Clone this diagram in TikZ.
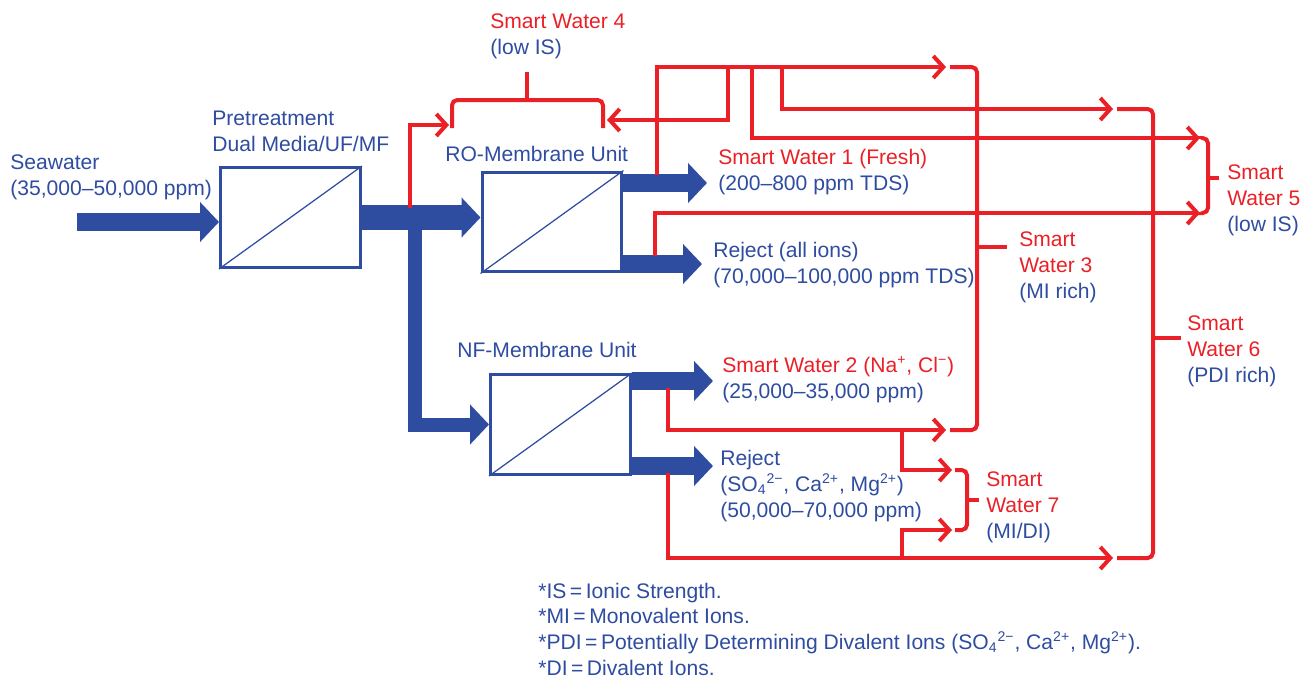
\documentclass[tikz,border=0pt]{standalone}
\usepackage{fontspec}
\setmainfont{Liberation Sans}
\usetikzlibrary{arrows.meta, positioning, calc}

\definecolor{flowblue}{RGB}{46,76,160}
\definecolor{flowred}{RGB}{234,32,38}
\newcommand{\redtxt}[1]{\textcolor{flowred}{#1}}

\begin{document}
\begin{tikzpicture}[
    x=0.02cm, y=-0.02cm,
    unit/.style={draw=flowblue, line width=0.06cm, minimum width=2.8cm,
                 minimum height=2cm, inner sep=0pt},
    lbl/.style={anchor=base west, inner sep=0pt, align=left, text=flowblue,
                font=\fontsize{12}{14.6}\selectfont},
    fat/.style={flowblue, line width=0.36cm,
                -{Triangle[length=0.38cm, width=0.78cm]}},
    pipe/.style={flowred, line width=0.08cm},
    feed/.style={pipe, -{Straight Barb[length=0.2cm, width=0.44cm]}},
    bracket/.style={pipe, rounded corners=3pt}
  ]
  \useasboundingbox (0,0) rectangle (1301,680);

  % Units
  \node[unit] (pre) at (290.5,217.5) {};
  \node[unit] (ro)  at (552,222) {};
  \node[unit] (nf)  at (560.5,424.5) {};
  \foreach \u in {pre,ro,nf}
    \draw[flowblue, line width=0.025cm] (\u.south west) -- (\u.north east);

  % Labels (placed at the baseline of their last line)
  \node[lbl] (sea)    at (10,195)  {Seawater\\(35,000–50,000 ppm)};
  \node[lbl] (pretxt) at (212,151) {Pretreatment\\Dual Media/UF/MF};
  \node[lbl] (rotxt)  at (445,161) {RO-Membrane Unit};
  \node[lbl] (nftxt)  at (457,357) {NF-Membrane Unit};
  \node[lbl] (sw4)    at (490,54)  {\redtxt{Smart Water 4}\\(low IS)};
  \node[lbl] (sw1)    at (718,190) {\redtxt{Smart Water 1 (Fresh)}\\(200–800 ppm TDS)};
  \node[lbl] (rorej)  at (713,283) {Reject (all ions)\\(70,000–100,000 ppm TDS)};
  \node[lbl] (sw2)    at (722,398) {\redtxt{Smart Water 2 (Na\textsuperscript{+}, Cl\textsuperscript{−})}\\(25,000–35,000 ppm)};
  \node[lbl] (nfrej)  at (720,517) {Reject\\(SO\textsubscript{4}\textsuperscript{2−}, Ca\textsuperscript{2+}, Mg\textsuperscript{2+})\\(50,000–70,000 ppm)};
  \node[lbl] (sw3)    at (1019,298) {\redtxt{Smart}\\\redtxt{Water 3}\\(MI rich)};
  \node[lbl] (sw5)    at (1227,231) {\redtxt{Smart}\\\redtxt{Water 5}\\(low IS)};
  \node[lbl] (sw6)    at (1187,382) {\redtxt{Smart}\\\redtxt{Water 6}\\(PDI rich)};
  \node[lbl] (sw7)    at (986,538)  {\redtxt{Smart}\\\redtxt{Water 7}\\(MI/DI)};
  \node[lbl] (notes) at (538,675)
    {*IS\,=\,Ionic Strength.\\*MI\,=\,Monovalent Ions.\\
     *PDI\,=\,Potentially Determining Divalent Ions (SO\textsubscript{4}\textsuperscript{2−}, Ca\textsuperscript{2+}, Mg\textsuperscript{2+}).\\
     *DI\,=\,Divalent Ions.};

  % Blue streams
  \coordinate (seain) at (77,222);
  \coordinate (tee)   at (415,217.5);
  \coordinate (ro1)   at (707,183);
  \coordinate (ro2)   at (702,264);
  \coordinate (nf1)   at (713,381);
  \coordinate (nf2)   at (713,466);
  \draw[fat] (seain) -- (seain -| pre.west);
  \draw[fat, line width=0.5cm] (pre.east) -- (pre.east -| ro.west);
  \draw[fat, line width=0.28cm] (tee) |- (nf.west);
  \draw[fat] (ro.east |- ro1) -- (ro1);
  \draw[fat] (ro.east |- ro2) -- (ro2);
  \draw[fat] (nf.east |- nf1) -- (nf1);
  \draw[fat] (nf.east |- nf2) -- (nf2);

  % Red blends
  \coordinate (t0)  at (410,208);
  \coordinate (roP) at (657,175);
  \coordinate (roR) at (655,256);
  \coordinate (nfP) at (668,388);
  \coordinate (nfR) at (668,473);
  \coordinate (b1)  at (728,67);
  \coordinate (b2)  at (752,67);
  \coordinate (b3)  at (782,67);
  \coordinate (b4)  at (902,430);
  \coordinate (b5)  at (902,558);
  \coordinate (sw4a) at (449,125);
  \coordinate (sw4b) at (607,120);
  \coordinate (sw3a) at (946,67);
  \coordinate (sw3b) at (946,430);
  \coordinate (sw5a) at (1200,138);
  \coordinate (sw5b) at (1200,213);
  \coordinate (sw6a) at (1113,109);
  \coordinate (sw6b) at (1113,558);
  \coordinate (sw7a) at (952,470);
  \coordinate (sw7b) at (952,530);

  \draw[feed] (t0)  |- (sw4a);
  \draw[feed] (roP) |- (sw3a);
  \draw[feed] (b1)  |- (sw4b);
  \draw[feed] (b2)  |- (sw5a);
  \draw[feed] (b3)  |- (sw6a);
  \draw[feed] (roR) |- (sw5b);
  \draw[feed] (nfP) |- (sw3b);
  \draw[feed] (b4)  |- (sw7a);
  \draw[feed] (nfR) |- (sw6b);
  \draw[feed] (b5)  |- (sw7b);

  % Brackets
  \draw[bracket] (452,128) -- (452,100) -- (603,100) -- (603,128);
  \draw[pipe] (527,100) -- (527,72);
  \foreach \xl/\xr/\yt/\yb/\ym/\xt in {950/977/67/430/247/1007,
      1203/1208/138/213/178/1219, 1117/1153/109/558/338/1181,
      955/967/470/530/500/979}
  {
    \draw[bracket] (\xl,\yt) -- (\xr,\yt) -- (\xr,\yb) -- (\xl,\yb);
    \draw[pipe] (\xr,\ym) -- (\xt,\ym);
  }
\end{tikzpicture}
\end{document}
